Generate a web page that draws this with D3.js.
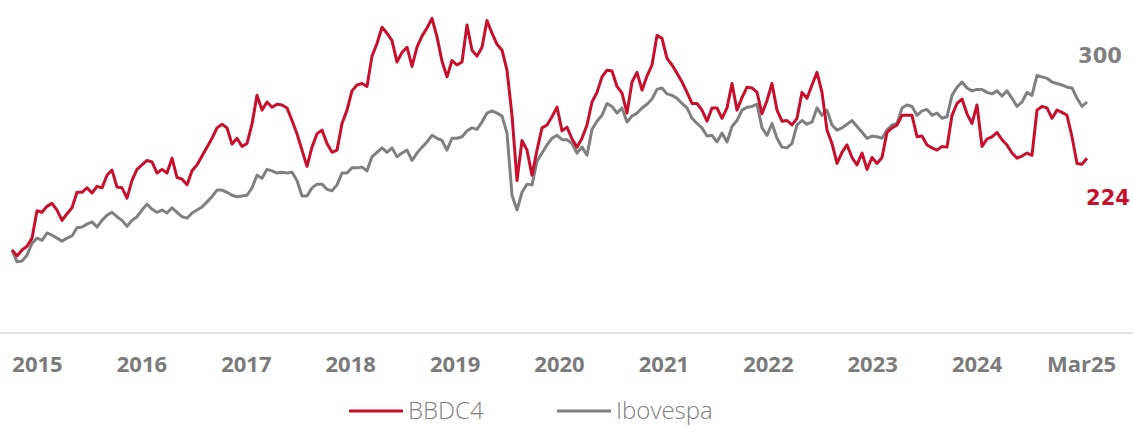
<!DOCTYPE html>
<html>
<head>
<meta charset="utf-8">
<script src="https://cdn.jsdelivr.net/npm/d3@7"></script>
<style>
  body { margin: 0; background: #fff; }
</style>
</head>
<body>
<script>
// x axis labels (evenly spaced, as on the original slide)
var periodLabels = ["2015", "2016", "2017", "2018", "2019", "2020", "2021", "2022", "2023", "2024", "Mar25"];

// series names
var seriesNames = ["BBDC4", "Ibovespa"];

// BBDC4, base 100, one reading every ~2 weeks
var bbdc4 = [
    100, 92, 100, 105, 116, 153, 151, 159, 163, 154,
    140, 149, 157, 178, 178, 184, 177, 186, 184, 201,
    208, 185, 184, 170, 194, 209, 215, 221, 219, 204,
    209, 204, 224, 198, 196, 188, 207, 215, 227, 239,
    251, 265, 270, 265, 243, 251, 240, 244, 270, 309,
    289, 300, 293, 297, 296, 292, 275, 257, 235, 213,
    239, 257, 262, 244, 232, 235, 271, 289, 315, 323,
    325, 321, 362, 379, 401, 393, 383, 354, 367, 374,
    348, 374, 389, 400, 413, 388, 355, 334, 356, 350,
    354, 404, 370, 362, 374, 410, 393, 378, 370, 343,
    282, 194, 248, 235, 201, 235, 265, 269, 280, 293,
    261, 266, 250, 239, 251, 269, 300, 313, 334, 343,
    342, 321, 312, 285, 327, 340, 316, 335, 350, 390,
    386, 359, 350, 339, 327, 313, 298, 298, 289, 274,
    292, 292, 278, 292, 325, 289, 306, 320, 319, 313,
    284, 302, 325, 289, 274, 275, 269, 278, 313, 305,
    323, 340, 313, 262, 244, 217, 232, 242, 225, 215,
    231, 209, 225, 217, 225, 259, 265, 269, 282, 282,
    282, 253, 254, 242, 238, 235, 240, 239, 282, 298,
    304, 284, 271, 296, 240, 250, 253, 259, 249, 242,
    231, 224, 227, 231, 228, 289, 294, 292, 278, 289,
    286, 282, 253, 217, 216, 224
];

// Ibovespa, base 100, same dates
var ibovespa = [
    100, 84, 85, 93, 109, 116, 113, 123, 120, 116,
    112, 116, 119, 130, 131, 135, 138, 131, 140, 147,
    151, 145, 140, 132, 140, 145, 154, 162, 155, 151,
    154, 150, 157, 151, 145, 143, 150, 154, 158, 165,
    172, 181, 181, 178, 174, 172, 173, 174, 184, 201,
    197, 209, 207, 204, 205, 204, 205, 194, 173, 173,
    184, 189, 189, 182, 180, 188, 204, 204, 211, 211,
    212, 207, 226, 232, 238, 232, 238, 226, 231, 235,
    221, 231, 239, 246, 255, 251, 248, 235, 251, 251,
    253, 261, 265, 263, 273, 285, 288, 285, 281, 258,
    174, 154, 178, 189, 188, 220, 231, 242, 251, 255,
    249, 249, 244, 231, 239, 228, 263, 274, 282, 298,
    294, 285, 292, 273, 281, 285, 292, 297, 304, 317,
    319, 311, 309, 305, 298, 292, 278, 271, 265, 254,
    255, 246, 258, 246, 267, 275, 289, 293, 294, 297,
    265, 255, 271, 251, 239, 238, 244, 269, 275, 270,
    273, 292, 282, 289, 269, 262, 265, 270, 275, 267,
    259, 251, 254, 253, 251, 262, 269, 271, 292, 296,
    294, 282, 288, 290, 282, 285, 278, 280, 309, 320,
    327, 319, 315, 317, 317, 313, 311, 315, 308, 315,
    305, 294, 300, 313, 309, 336, 334, 332, 327, 325,
    323, 320, 319, 305, 294, 300
];

var width = 1133,
    height = 426;

var red = "#c8102e",
    grey = "#808080";

var svg = d3.select("body").append("svg")
    .attr("width", width)
    .attr("height", height);

var x = d3.scaleLinear().domain([0, bbdc4.length - 1]).range([12, 1087]),
    y = d3.scaleLinear().domain([100, 300]).range([250, 102]),
    xLabel = d3.scalePoint().domain(periodLabels).range([37, 1081]);

var line = d3.line()
    .x(function(d, i) { return x(i); })
    .y(function(d) { return y(d); });

// baseline across the whole slide
svg.append("line")
    .attr("x1", 0)
    .attr("x2", width)
    .attr("y1", 333)
    .attr("y2", 333)
    .style("stroke", "#dadada")
    .style("stroke-width", 1.5);

var axis = svg.append("g")
    .attr("transform", "translate(0,333)")
    .call(d3.axisBottom(xLabel).tickSize(0).tickPadding(23));

axis.select(".domain").remove();

axis.selectAll("text")
    .style("font-family", "'Open Sans', sans-serif")
    .style("font-weight", 700)
    .style("font-size", "22px")
    .style("fill", "#7b7b7b");

// lines
svg.append("path")
    .datum(ibovespa)
    .attr("d", line)
    .style("fill", "none")
    .style("stroke", grey)
    .style("stroke-width", 3)
    .style("stroke-linejoin", "round");

svg.append("path")
    .datum(bbdc4)
    .attr("d", line)
    .style("fill", "none")
    .style("stroke", red)
    .style("stroke-width", 3)
    .style("stroke-linejoin", "round");

// end values
svg.append("text")
    .attr("x", 1100)
    .attr("y", 63)
    .attr("text-anchor", "middle")
    .style("font-family", "'DejaVu Sans', sans-serif")
    .style("font-weight", 700)
    .style("font-size", "21px")
    .style("fill", grey)
    .text(d3.format("d")(ibovespa[ibovespa.length - 1]));

svg.append("text")
    .attr("x", 1108)
    .attr("y", 205)
    .attr("text-anchor", "middle")
    .style("font-family", "'DejaVu Sans', sans-serif")
    .style("font-weight", 700)
    .style("font-size", "21px")
    .style("fill", red)
    .text(d3.format("d")(bbdc4[bbdc4.length - 1]));

// legend
var legendX = [349, 557];
var legendColors = [red, grey];

var legend = svg.selectAll(".legend")
    .data(seriesNames)
    .enter()
    .append("g")
    .attr("class", "legend")
    .attr("transform", function(d, i) { return "translate(" + legendX[i] + ",411)"; });

legend.append("line")
    .attr("x1", 0)
    .attr("x2", 54)
    .style("stroke", function(d, i) { return legendColors[i]; })
    .style("stroke-width", 3);

legend.append("text")
    .attr("x", 59)
    .attr("y", 8)
    .style("font-family", "'Open Sans', sans-serif")
    .style("font-weight", 300)
    .style("font-size", "24px")
    .style("fill", "#7f7f7f")
    .text(function(d) { return d; });
</script>
</body>
</html>
